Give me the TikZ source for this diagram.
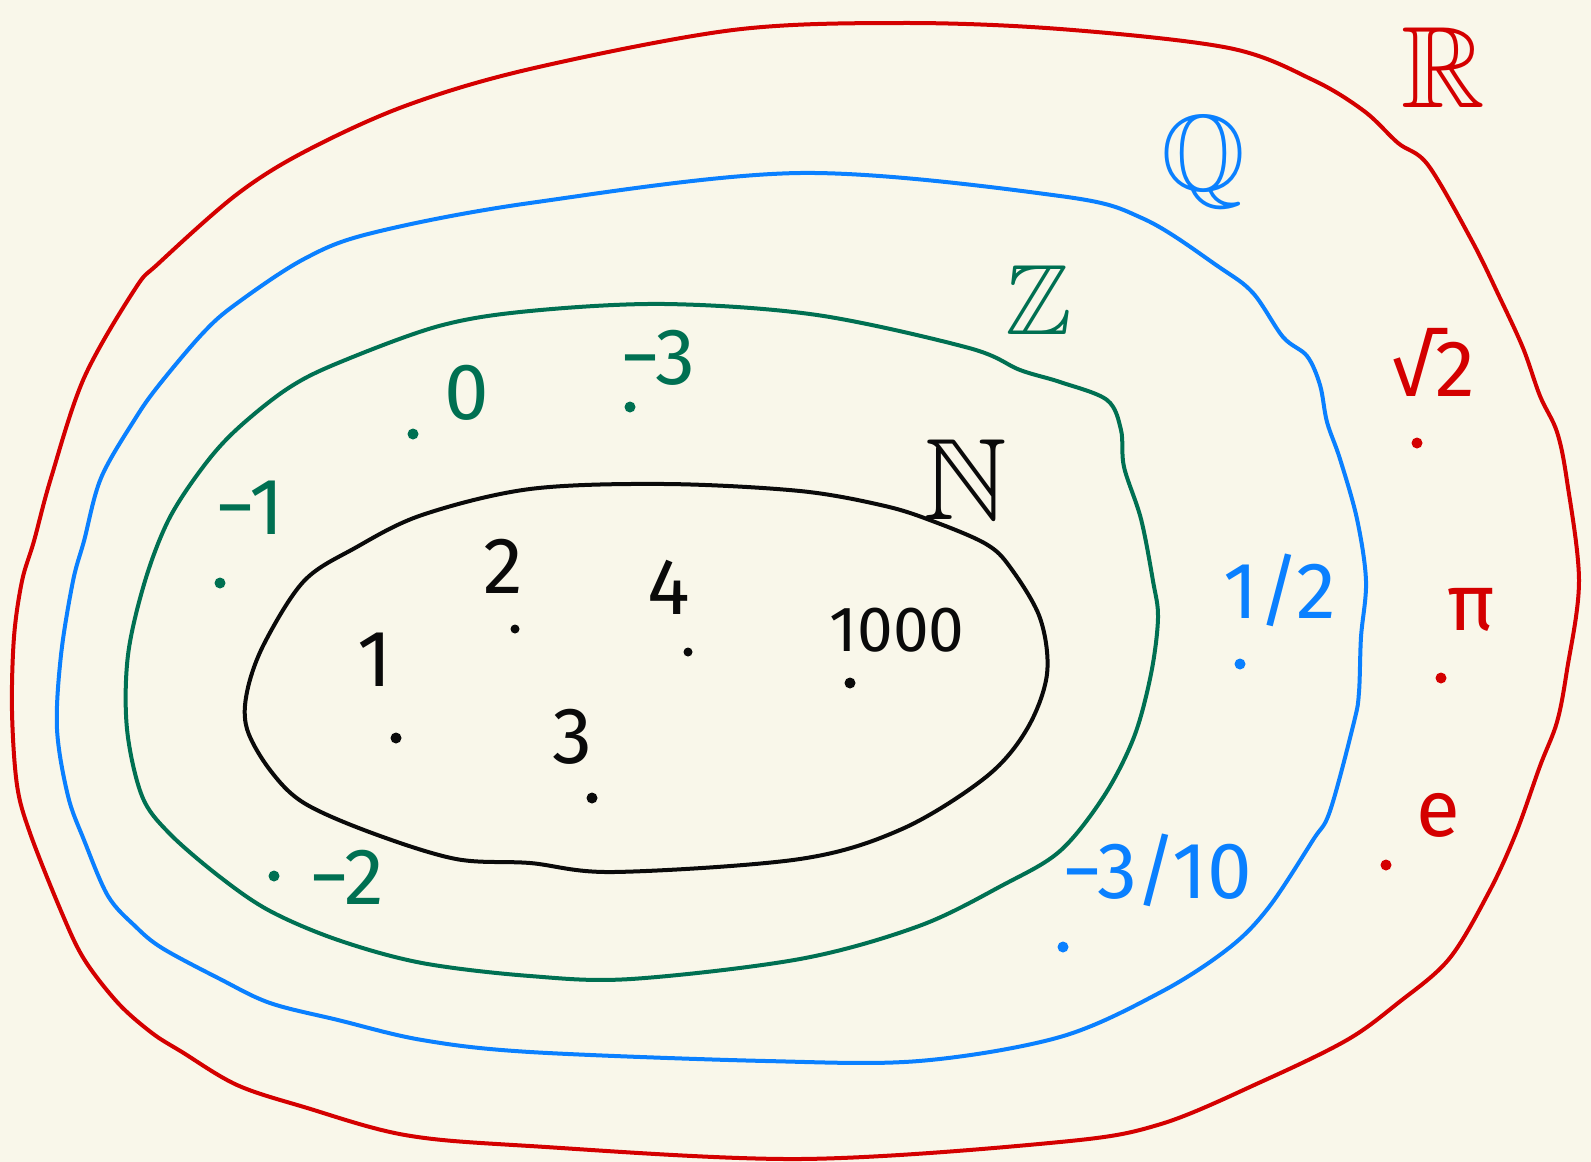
\documentclass[tikz,border=0pt]{standalone}
\usepackage{amssymb}
\usepackage{fontspec}
\setmainfont{Fira Sans}
\usepackage{tikz}
\usetikzlibrary{positioning}
\definecolor{paper}{RGB}{249, 247, 234}
\definecolor{realred}{RGB}{212, 0, 0}
\definecolor{ratblue}{RGB}{10, 128, 255}
\definecolor{intgreen}{RGB}{0, 112, 82}
\definecolor{natblack}{RGB}{10, 10, 10}

\begin{document}
\begin{tikzpicture}[
    x=0.5pt, y=-0.5pt,
    setline/.style={line width=2pt, line join=round},
    elem/.style={inner sep=0pt, font=\fontsize{40}{44}\selectfont},
    smallelem/.style={inner sep=0pt, font=\fontsize{32}{36}\selectfont},
    setname/.style={inner sep=0pt},
    pt/.style={circle, fill, inner sep=0pt, minimum size=5.5pt}
]
    \fill[paper] (0,0) rectangle (1591,1162);
    \useasboundingbox (0,0) rectangle (1591,1162);

    % R
    \draw[setline, realred] plot[smooth cycle, tension=0.55] coordinates {
        (902,23) (1060,29) (1229,48) (1313,80) (1364,111) (1398,143)
        (1428,165) (1472,241) (1499,296) (1523,348) (1540,396) (1557,432)
        (1567,481) (1579,581) (1567,670) (1557,722) (1540,766) (1516,833)
        (1489,892) (1449,959) (1398,1003) (1347,1040) (1263,1081) (1161,1124)
        (1060,1142) (800,1159) (530,1146) (405,1135) (304,1107) (237,1085)
        (182,1052) (152,1033) (118,1003) (84,959) (61,911) (30,833)
        (17,785) (12,711) (14,637) (22,581) (34,541) (51,478) (84,378)
        (135,289) (159,263) (236,195) (304,152) (405,106)
        (530,69) (733,30)};
    % Q
    \draw[setline, ratblue] plot[smooth cycle, tension=0.55] coordinates {
        (800,173) (1060,196) (1144,219) (1219,267) (1253,293) (1283,337)
        (1307,356) (1320,385) (1327,422) (1340,459) (1357,519) (1366,581)
        (1361,637) (1359,692) (1354,722) (1330,811) (1313,840) (1269,907)
        (1229,948) (1161,992) (1060,1037) (919,1061) (766,1061) (530,1052)
        (422,1040) (338,1020) (270,1003) (220,979) (162,948) (135,926)
        (108,896) (84,840) (68,796) (57,729) (61,655) (73,581) (84,541)
        (101,478) (135,419) (159,385) (203,333) (236,304) (304,259)
        (372,233) (530,203)};
    % Z
    \draw[setline, intgreen] plot[smooth cycle, tension=0.55] coordinates {
        (665,304) (817,315) (969,348) (1020,370) (1060,382) (1107,400)
        (1121,430) (1124,467) (1141,519) (1153,581) (1158,618) (1151,674)
        (1134,737) (1104,796) (1060,851) (1003,885) (919,926) (800,959)
        (631,979) (530,976) (422,963) (338,940) (270,911) (220,877)
        (169,833) (142,796) (127,729) (128,655) (145,581) (169,519)
        (203,467) (236,430) (287,389) (338,363) (439,326) (530,311)};
    % N
    \draw[setline, natblack] plot[smooth cycle, tension=0.55] coordinates {
        (665,484) (800,491) (885,506) (935,522) (986,544) (1010,567)
        (1040,618) (1047,674) (1027,729) (986,777) (902,829) (800,859)
        (614,872) (530,863) (456,859) (372,833) (304,803) (270,770)
        (247,729) (247,692) (264,644) (304,581) (355,548) (422,515)
        (530,489)};

    % set names
    \node[setname, realred, font=\fontsize{58}{62}\selectfont] (realname) at (1443,68) {$\mathbb{R}$};
    \node[setname, ratblue, font=\fontsize{54}{58}\selectfont] (ratname) at (1203,162) {$\mathbb{Q}$};
    \node[setname, intgreen, font=\fontsize{50}{54}\selectfont] (intname) at (1039,300) {$\mathbb{Z}$};
    \node[setname, natblack, font=\fontsize{58}{62}\selectfont] (natname) at (965,480) {$\mathbb{N}$};

    % naturals
    \node[pt, natblack] (one-dot) at (396,738) {};
    \node[elem, natblack] (one) at (375,660) {1};
    \node[pt, natblack, minimum size=4.5pt] (two-dot) at (515,629) {};
    \node[elem, natblack] (two) at (503,566) {2};
    \node[pt, natblack] (three-dot) at (592,798) {};
    \node[elem, natblack] (three) at (572,737) {3};
    \node[pt, natblack, minimum size=4.5pt] (four-dot) at (688,652) {};
    \node[elem, natblack] (four) at (669,587) {4};
    \node[pt, natblack] (thousand-dot) at (850,683) {};
    \node[smallelem, natblack] (thousand) at (897,630) {1000};

    % integers
    \node[pt, intgreen] (zero-dot) at (413,434) {};
    \node[elem, intgreen] (zero) at (467,393) {0};
    \node[pt, intgreen] (mthree-dot) at (630,407) {};
    \node[elem, intgreen] (mthree) at (658,358) {−3};
    \node[pt, intgreen] (mone-dot) at (220,583) {};
    \node[elem, intgreen] (mone) at (250,508) {−1};
    \node[pt, intgreen] (mtwo-dot) at (274,876) {};
    \node[elem, intgreen] (mtwo) at (347,877) {−2};

    % rationals
    \node[pt, ratblue] (half-dot) at (1240,664) {};
    \node[elem, ratblue] (half) at (1280,590) {1/2};
    \node[pt, ratblue] (tenth-dot) at (1063,947) {};
    \node[elem, ratblue] (tenth) at (1157,870) {−3/10};

    % reals
    \node[pt, realred] (sqrt-dot) at (1417,443) {};
    \node[elem, realred] (sqrt) at (1433,362) {√2};
    \node[pt, realred] (pi-dot) at (1441,678) {};
    \node[elem, realred] (pi) at (1471,610) {π};
    \node[pt, realred] (e-dot) at (1386,865) {};
    \node[elem, realred] (e) at (1438,815) {e};
\end{tikzpicture}
\end{document}
